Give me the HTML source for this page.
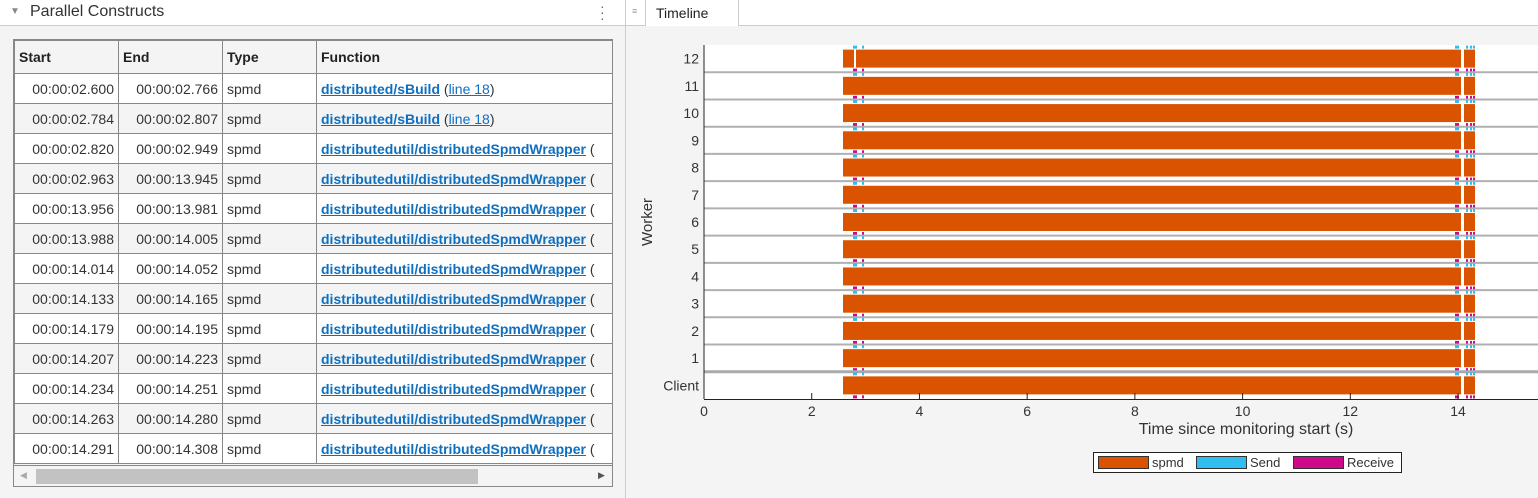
<!DOCTYPE html>
<html><head><style>
body{margin:0;width:1538px;height:498px;background:#f4f4f4;font-family:"Liberation Sans",Arial,sans-serif;position:relative;overflow:hidden}
.a{position:absolute}
table{border-collapse:collapse;font-size:14px;color:#333}
td,th{border:1px solid #888;height:29px;padding:0 4px;white-space:nowrap;overflow:hidden}
th{text-align:left;font-weight:bold;color:#222;height:32px}
tr:nth-child(even) td{background:#fff}
tr:nth-child(odd) td{background:#f4f4f4}
td.n{text-align:right}
a{color:#0e6fc0;font-weight:bold;text-decoration:underline}
.l{color:#0e6fc0;text-decoration:underline;font-weight:normal}
</style></head><body>
<div class="a" style="left:0;top:0;width:625px;height:25px;background:#fff;border-bottom:1px solid #ccc"></div>
<div class="a" style="left:10px;top:6px;font-size:10px;color:#888">▼</div>
<div class="a" style="left:30px;top:3px;font-size:16px;color:#333">Parallel Constructs</div>
<div class="a" style="left:600px;top:3px;font-size:14px;color:#666;line-height:6px">·<br>·<br>·</div>
<div class="a" style="left:625px;top:0;width:1px;height:498px;background:#ccc"></div>
<div class="a" style="left:626px;top:0;width:912px;height:25px;background:#fff;border-bottom:1px solid #ccc"></div>
<div class="a" style="left:632px;top:6px;font-size:9px;color:#999">≡</div>
<div class="a" style="left:645px;top:0;width:92px;height:26px;background:#fff;border-left:1px solid #ccc;border-right:1px solid #ccc"></div>
<div class="a" style="left:656px;top:5px;font-size:14px;color:#222">Timeline</div>
<div class="a" style="left:13px;top:39px;width:598px;height:446px;border:1px solid #888;background:#f4f4f4;overflow:hidden">
<table style="width:640px;table-layout:fixed">
<colgroup><col style="width:104px"><col style="width:104px"><col style="width:94px"><col style="width:338px"></colgroup>
<tr><th>Start</th><th>End</th><th>Type</th><th>Function</th></tr>
<tr><td class="n">00:00:02.600</td><td class="n">00:00:02.766</td><td>spmd</td><td><a>distributed/sBuild</a> (<span class="l">line 18</span>)</td></tr>
<tr><td class="n">00:00:02.784</td><td class="n">00:00:02.807</td><td>spmd</td><td><a>distributed/sBuild</a> (<span class="l">line 18</span>)</td></tr>
<tr><td class="n">00:00:02.820</td><td class="n">00:00:02.949</td><td>spmd</td><td><a>distributedutil/distributedSpmdWrapper</a> (</td></tr>
<tr><td class="n">00:00:02.963</td><td class="n">00:00:13.945</td><td>spmd</td><td><a>distributedutil/distributedSpmdWrapper</a> (</td></tr>
<tr><td class="n">00:00:13.956</td><td class="n">00:00:13.981</td><td>spmd</td><td><a>distributedutil/distributedSpmdWrapper</a> (</td></tr>
<tr><td class="n">00:00:13.988</td><td class="n">00:00:14.005</td><td>spmd</td><td><a>distributedutil/distributedSpmdWrapper</a> (</td></tr>
<tr><td class="n">00:00:14.014</td><td class="n">00:00:14.052</td><td>spmd</td><td><a>distributedutil/distributedSpmdWrapper</a> (</td></tr>
<tr><td class="n">00:00:14.133</td><td class="n">00:00:14.165</td><td>spmd</td><td><a>distributedutil/distributedSpmdWrapper</a> (</td></tr>
<tr><td class="n">00:00:14.179</td><td class="n">00:00:14.195</td><td>spmd</td><td><a>distributedutil/distributedSpmdWrapper</a> (</td></tr>
<tr><td class="n">00:00:14.207</td><td class="n">00:00:14.223</td><td>spmd</td><td><a>distributedutil/distributedSpmdWrapper</a> (</td></tr>
<tr><td class="n">00:00:14.234</td><td class="n">00:00:14.251</td><td>spmd</td><td><a>distributedutil/distributedSpmdWrapper</a> (</td></tr>
<tr><td class="n">00:00:14.263</td><td class="n">00:00:14.280</td><td>spmd</td><td><a>distributedutil/distributedSpmdWrapper</a> (</td></tr>
<tr><td class="n">00:00:14.291</td><td class="n">00:00:14.308</td><td>spmd</td><td><a>distributedutil/distributedSpmdWrapper</a> (</td></tr>
</table>
<div class="a" style="left:0;top:425px;width:598px;height:21px;background:#f4f4f4;border-top:1px solid #888"></div>
<div class="a" style="left:22px;top:429px;width:442px;height:15px;background:#c2c2c2"></div>
<div class="a" style="left:6px;top:430px;font-size:9px;color:#aaa">◀</div>
<div class="a" style="left:584px;top:430px;font-size:9px;color:#555">▶</div>
</div>
<svg class="a" style="left:0;top:0" width="1538" height="498">
<rect x="704" y="45" width="834" height="354" fill="#fff"/>
<g id="rows"></g>
<line x1="704" y1="45" x2="704" y2="399" stroke="#222" stroke-width="1"/>
<line x1="704" y1="399.5" x2="1538" y2="399.5" stroke="#222"/>
<g font-size="14" fill="#333" text-anchor="middle" id="xt"></g>
<text x="1246" y="434" font-size="16" fill="#333" text-anchor="middle">Time since monitoring start (s)</text>
<text x="652" y="222" font-size="15" fill="#333" text-anchor="middle" transform="rotate(-90 652 222)">Worker</text>
<rect x="1093.5" y="452.5" width="308" height="20" fill="#fff" stroke="#222"/>
<rect x="1098.5" y="456.5" width="50" height="12" fill="#d95300" stroke="#333"/>
<text x="1152" y="467" font-size="13" fill="#333">spmd</text>
<rect x="1196.5" y="456.5" width="50" height="12" fill="#30bdef" stroke="#333"/>
<text x="1250" y="467" font-size="13" fill="#333">Send</text>
<rect x="1293.5" y="456.5" width="50" height="12" fill="#d0088a" stroke="#333"/>
<text x="1347" y="467" font-size="13" fill="#333">Receive</text>
</svg>
<script>
const ns="http://www.w3.org/2000/svg";
const g=document.getElementById('rows');
function el(t,a){const e=document.createElementNS(ns,t);for(const k in a)e.setAttribute(k,a[k]);return e;}
const labels=['12','11','10','9','8','7','6','5','4','3','2','1','Client'];
const h=(399-45)/13;
for(let i=0;i<13;i++){
 const top=45+i*h, c=top+h/2;
 if(i>0) g.appendChild(el('line',{x1:704,x2:1538,y1:top,y2:top,stroke:i==12?'#aaa':'#b0b0b0','stroke-width':i==12?3:2}));
 const y0=c-9;
 g.appendChild(el('rect',{x:843,y:y0,width:618,height:18,fill:'#d95300'}));
 g.appendChild(el('rect',{x:1464,y:y0,width:11,height:18,fill:'#d95300'}));
 if(i==0) g.appendChild(el('rect',{x:854,y:y0,width:2,height:18,fill:'#fff'}));
 for(const x of [853,855,862,1455,1457,1466,1470,1473]){
  g.appendChild(el('rect',{x:x,y:y0-4,width:2,height:3,fill:'#30bdef'}));
  g.appendChild(el('rect',{x:x,y:y0+19,width:2,height:3,fill:'#d0088a'}));
 }
 const t=el('text',{x:699,y:c+5,'font-size':14,fill:'#333','text-anchor':'end'});t.textContent=labels[i];g.appendChild(t);
}
const xt=document.getElementById('xt');
for(let v=0;v<=14;v+=2){const x=704+v*53.86;
 xt.appendChild(el('line',{x1:x,x2:x,y1:399,y2:393,stroke:'#222'}));
 const t=el('text',{x:x,y:416});t.textContent=v;xt.appendChild(t);}
</script>
</body></html>
